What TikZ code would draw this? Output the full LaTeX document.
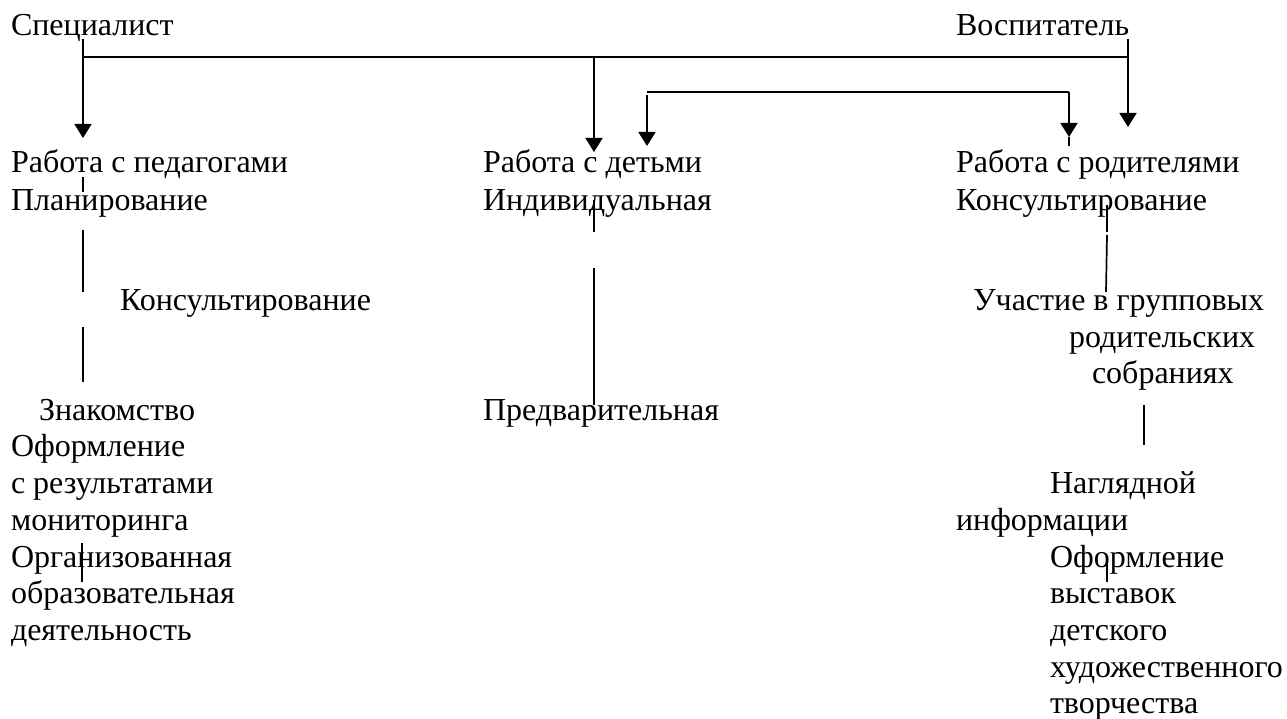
\documentclass[tikz,border=0pt]{standalone}
\usepackage{fontspec}
\setmainfont{Liberation Serif}
\usetikzlibrary{arrows.meta}
\tikzset{
  lbl/.style={anchor=base west, inner sep=0pt, outer sep=0pt, font=\fontsize{32}{36.8}\selectfont},
  wire/.style={line width=1.7pt, line cap=butt},
  arr/.style={wire, -{Triangle[width=17pt,length=14pt]}},
}
\begin{document}
\begin{tikzpicture}[x=1pt,y=-1pt]
\fill[white] (0,0) rectangle (1287,719);
\useasboundingbox (0,0) rectangle (1287,719);
% texts
\node[lbl] (spec) at (11,36) {Специалист};
\node[lbl] (vosp) at (956,36) {Воспитатель};
\node[lbl] (rp) at (11,173) {Работа с педагогами};
\node[lbl] (plan) at (11,211) {Планирование};
\node[lbl] (kons1) at (120,310) {Консультирование};
\node[lbl] (znak) at (39,420) {Знакомство};
\node[lbl] (oform1) at (11,456) {Оформление};
\node[lbl] (sres) at (11,493) {с результатами};
\node[lbl] (mon) at (11,530) {мониторинга};
\node[lbl] (org) at (11,567) {Организованная};
\node[lbl] (obr) at (11,603) {образовательная};
\node[lbl] (deyat) at (11,640) {деятельность};
\node[lbl] (rd) at (483,173) {Работа с детьми};
\node[lbl] (ind) at (483,211) {Индивидуальная};
\node[lbl] (pred) at (483,420) {Предварительная};
\node[lbl] (rr) at (956,173) {Работа с родителями};
\node[lbl] (kons2) at (956,211) {Консультирование};
\node[lbl] (uch) at (973,310) {Участие в групповых};
\node[lbl] (rod) at (1069,347) {родительских};
\node[lbl] (sobr) at (1092,383) {собраниях};
\node[lbl] (nagl) at (1050,493) {Наглядной};
\node[lbl] (inf) at (956,530) {информации};
\node[lbl] (oform2) at (1050,567) {Оформление};
\node[lbl] (vyst) at (1050,603) {выставок};
\node[lbl] (det) at (1050,640) {детского};
\node[lbl] (hud) at (1050,677) {художественного};
\node[lbl] (tv) at (1050,713) {творчества};
% coordinates
\coordinate (bL) at (83,57);
\coordinate (bM) at (594,57);
\coordinate (bR) at (1128,57);
\coordinate (sL) at (83,39);
\coordinate (aL) at (83,138);
\coordinate (aM) at (594,152);
\coordinate (sR) at (1128,39);
\coordinate (aR) at (1128,127);
\coordinate (cL) at (647,92);
\coordinate (cLs) at (647,95);
\coordinate (cLa) at (647,146);
\coordinate (cR) at (1069,92);
\coordinate (cRa) at (1069,137);
\coordinate (cRe) at (1069,146);
\coordinate (p1a) at (83,177);  \coordinate (p1b) at (83,192);
\coordinate (p2a) at (83,230);  \coordinate (p2b) at (83,292);
\coordinate (p3a) at (83,327);  \coordinate (p3b) at (83,382);
\coordinate (p4a) at (82,543);  \coordinate (p4b) at (82,582);
\coordinate (d1a) at (594,200); \coordinate (d1b) at (594,232);
\coordinate (d2a) at (594,268); \coordinate (d2b) at (594,405);
\coordinate (r1a) at (1107,205); \coordinate (r1b) at (1107,232);
\coordinate (r2a) at (1107,235); \coordinate (r2b) at (1106,292);
\coordinate (r3a) at (1144,405); \coordinate (r3b) at (1144,445);
\coordinate (r4a) at (1107,558); \coordinate (r4b) at (1107,582);
% connectors
\draw[wire] (bL) -- (bR);
\draw[arr] (sL) -- (aL);
\draw[arr] (bM) -- (aM);
\draw[arr] (sR) -- (aR);
\draw[wire] (cL) -- (cR);
\draw[arr] (cLs) -- (cLa);
\draw[arr] (cR) -- (cRa);
\draw[wire] (cRa) -- (cRe);
\draw[wire] (p1a) -- (p1b);
\draw[wire] (p2a) -- (p2b);
\draw[wire] (p3a) -- (p3b);
\draw[wire] (p4a) -- (p4b);
\draw[wire] (d1a) -- (d1b);
\draw[wire] (d2a) -- (d2b);
\draw[wire] (r1a) -- (r1b);
\draw[wire] (r2a) -- (r2b);
\draw[wire] (r3a) -- (r3b);
\draw[wire] (r4a) -- (r4b);
\end{tikzpicture}
\end{document}
